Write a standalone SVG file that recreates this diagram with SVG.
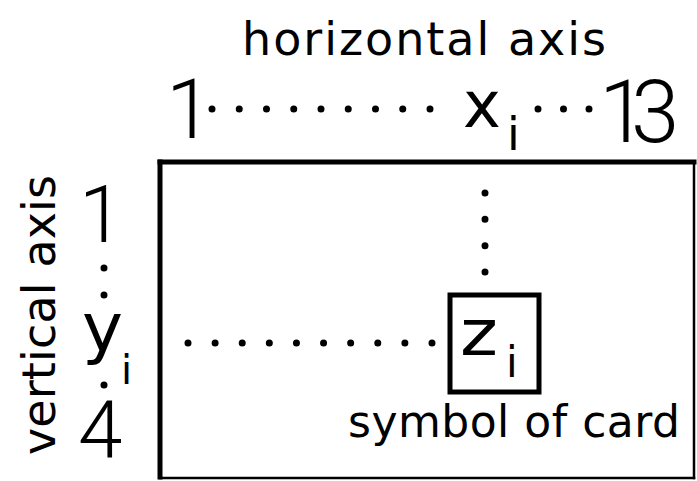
<svg xmlns="http://www.w3.org/2000/svg" width="697" height="481" viewBox="0 0 697 481">
<style>
.t{font-family:"DejaVu Sans","Liberation Sans",sans-serif;fill:#000}
.d{font-family:Roboto,"Liberation Sans",Arial,sans-serif;font-weight:300;fill:#000}
.dots{stroke:#000;stroke-width:7;stroke-linecap:round;fill:none}
.frame{stroke:#000;fill:none;stroke-linecap:square}
</style>
<rect width="697" height="481" fill="#fff"/>
<g id="frame">
<line class="frame" x1="160" y1="162" x2="160" y2="477" stroke-width="5"/>
<line class="frame" x1="160" y1="162" x2="694" y2="162" stroke-width="5"/>
<line class="frame" x1="694" y1="162" x2="694" y2="478" stroke-width="2.5"/>
<line class="frame" x1="160" y1="478" x2="694" y2="478" stroke-width="2.5"/>
</g>
<g id="horizontal-axis">
<text class="t" x="242" y="55" font-size="46" textLength="364" lengthAdjust="spacing">horizontal  axis</text>
<text class="d" x="166" y="138" font-size="84">1</text>
<text class="t" x="463" y="127" font-size="64">x</text>
<text class="t" x="507" y="150" font-size="46">i</text>
<text class="d" font-size="87" y="142" x="599 631">13</text>
</g>
<g id="vertical-axis">
<text class="t" transform="translate(55,455) rotate(-90)" font-size="46" textLength="280" lengthAdjust="spacing">vertical  axis</text>
<text class="d" x="79" y="242" font-size="80">1</text>
<text class="t" x="82" y="351" font-size="68" textLength="41" lengthAdjust="spacingAndGlyphs">y</text>
<text class="t" x="121" y="384" font-size="40">i</text>
<text class="d" x="78" y="457" font-size="80">4</text>
</g>
<g id="card">
<rect x="450" y="295" width="89" height="97" fill="none" stroke="#000" stroke-width="5"/>
<text class="t" x="460" y="355" font-size="64" textLength="38" lengthAdjust="spacingAndGlyphs">z</text>
<text class="t" x="506" y="377" font-size="42">i</text>
</g>
<g id="caption">
<text class="t" x="348" y="437" font-size="44" textLength="332" lengthAdjust="spacing">symbol of card</text>
</g>
<g id="connectors">
<line class="dots" x1="212" y1="109" x2="430.5" y2="109" stroke-dasharray="0 27.25"/>
<line class="dots" x1="538" y1="109" x2="589.5" y2="109" stroke-dasharray="0 25.5"/>
<line class="dots" x1="485" y1="193" x2="485" y2="272.5" stroke-dasharray="0 26.33"/>
<line class="dots" x1="188" y1="343" x2="432.5" y2="343" stroke-dasharray="0 27.11"/>
<line class="dots" x1="104" y1="268" x2="104" y2="295.5" stroke-dasharray="0 27"/>
<line class="dots" x1="104" y1="385" x2="104" y2="385.01" stroke-dasharray="0 27"/>
</g>
</svg>
